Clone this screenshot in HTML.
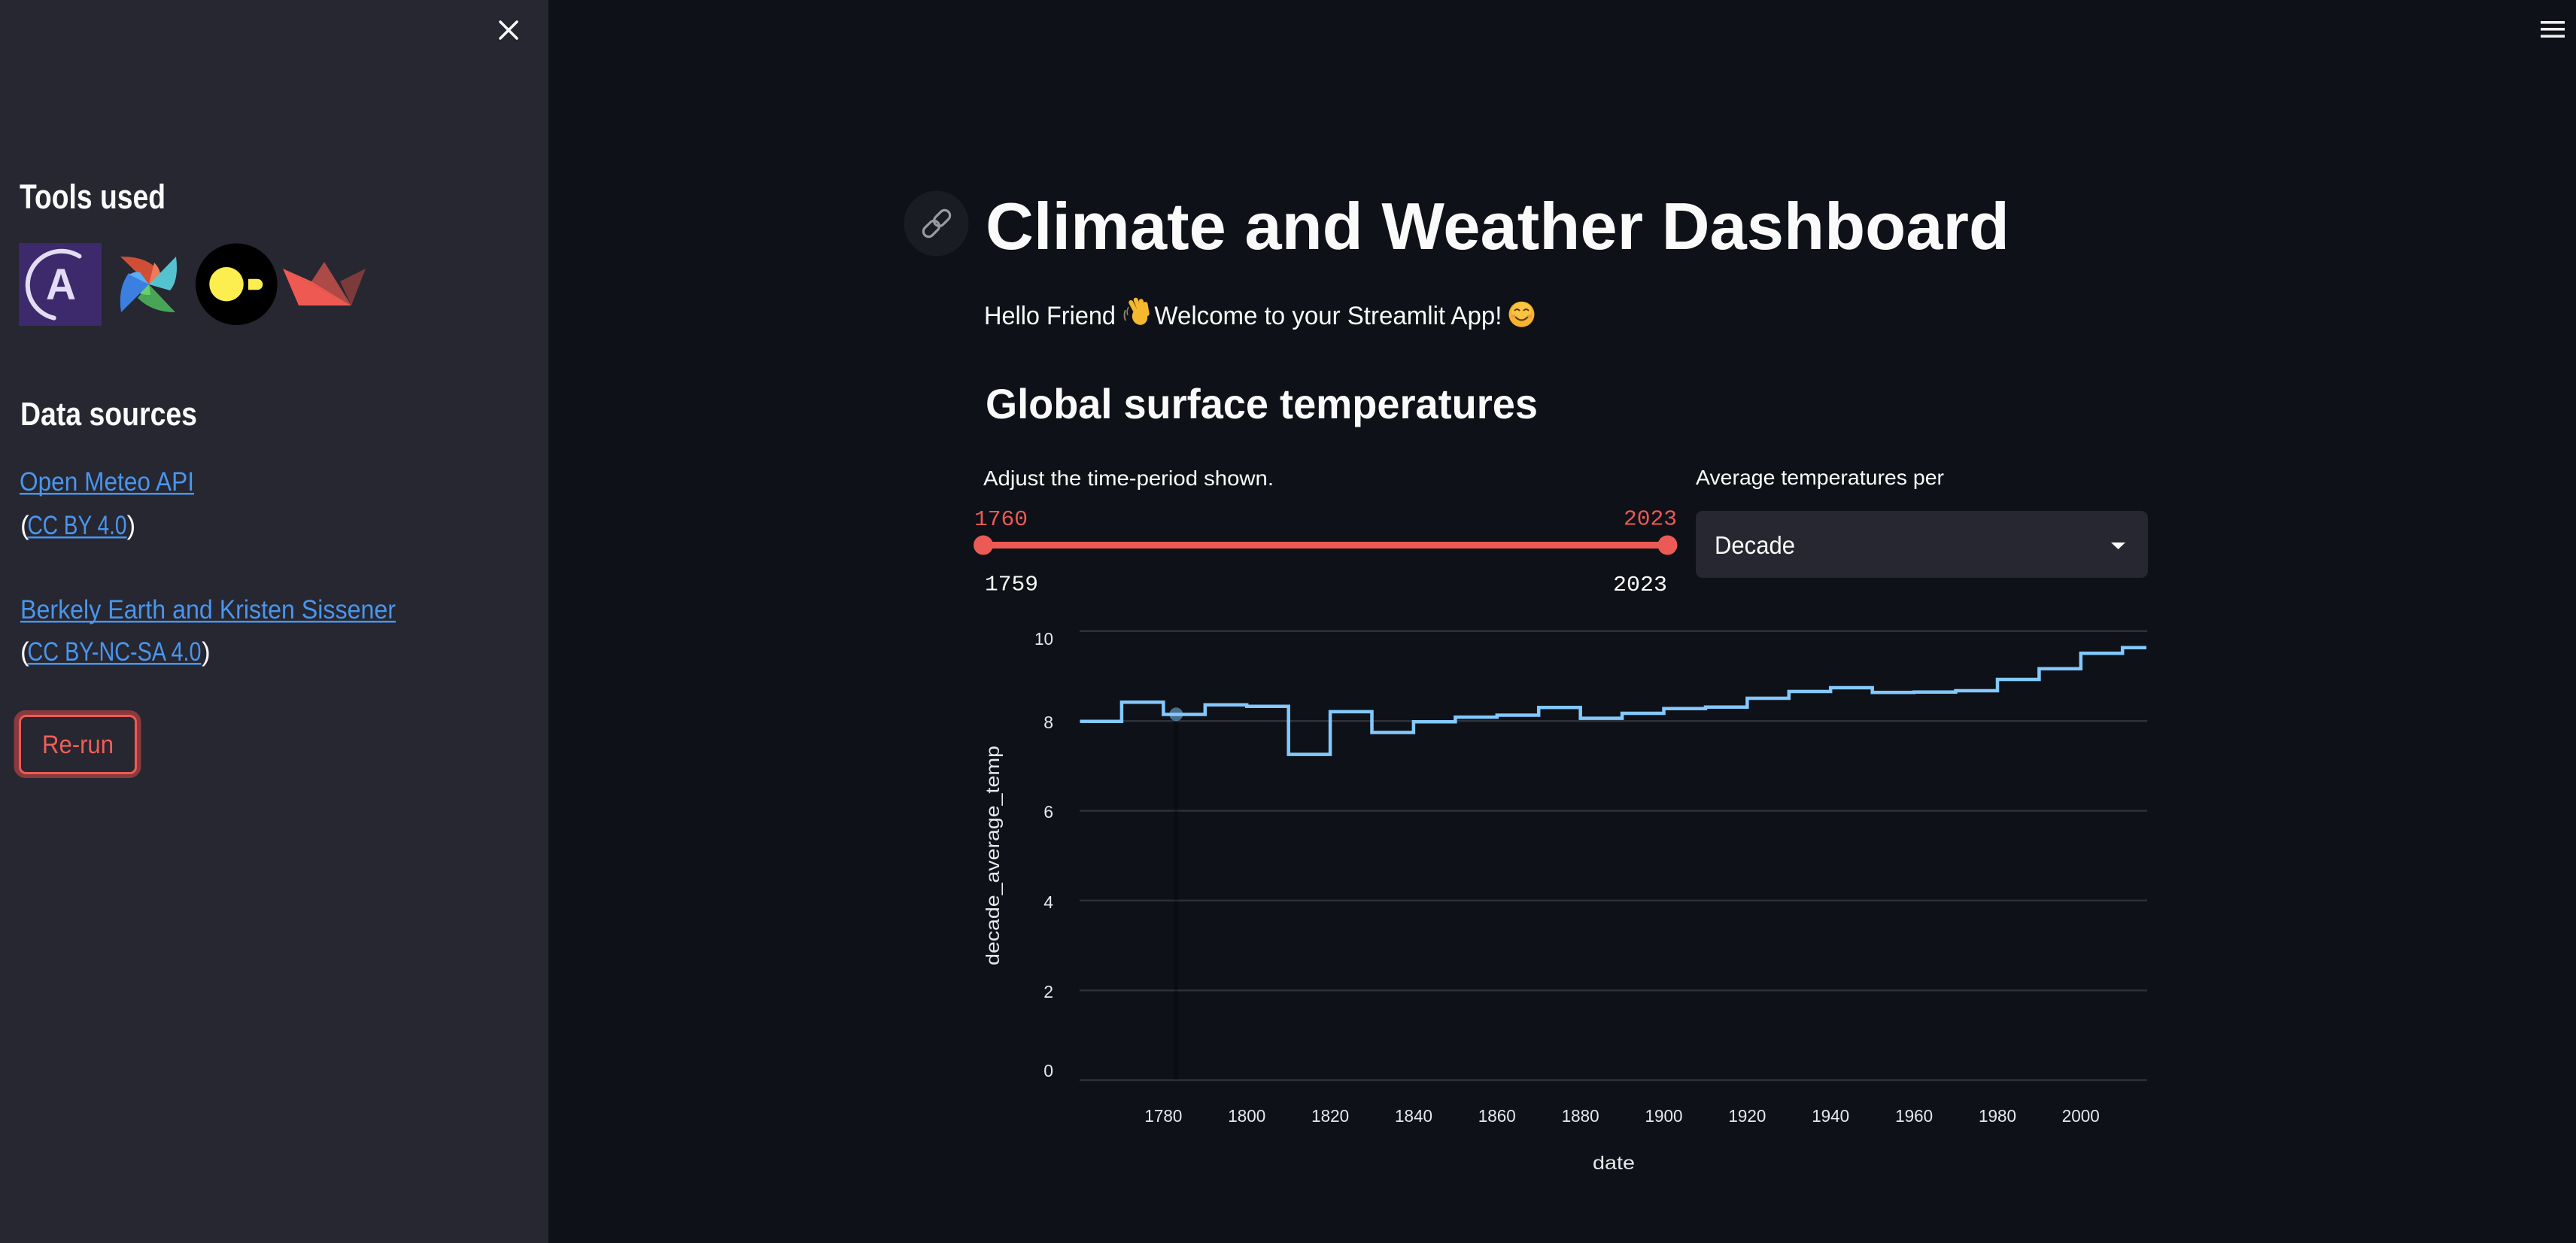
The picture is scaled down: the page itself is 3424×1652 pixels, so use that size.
<!DOCTYPE html>
<html>
<head>
<meta charset="utf-8">
<style>
  html,body{margin:0;padding:0;background:#0e1117;}
  svg{display:block;}
  .s{font-family:"Liberation Sans",sans-serif;}
  .m{font-family:"Liberation Mono",monospace;}
</style>
</head>
<body>
<svg width="3424" height="1652" viewBox="0 0 3424 1652" xmlns="http://www.w3.org/2000/svg">
  <!-- backgrounds -->
  <rect x="0" y="0" width="3424" height="1652" fill="#0e1117"/>
  <rect x="0" y="0" width="729" height="1652" fill="#262730"/>

  <!-- close X -->
  <g stroke="#fafafa" stroke-width="3.5" stroke-linecap="round">
    <line x1="665" y1="29" x2="687" y2="51"/>
    <line x1="687" y1="29" x2="665" y2="51"/>
  </g>

  <!-- hamburger -->
  <g fill="#f0f0f0">
    <rect x="3377" y="28" width="32" height="3.6"/>
    <rect x="3377" y="37" width="32" height="3.6"/>
    <rect x="3377" y="46.3" width="32" height="3.6"/>
  </g>

  <!-- Sidebar -->
  <text class="s" x="26" y="277" font-size="45" font-weight="bold" fill="#fafafa" textLength="194" lengthAdjust="spacingAndGlyphs">Tools used</text>

  <!-- Astronomer logo -->
  <rect x="25" y="323" width="110" height="110" fill="#3c2a6c"/>
  <path d="M105.5 340.5 A45 45 0 1 0 71.7 422.6" fill="none" stroke="#e3dcf5" stroke-width="6" stroke-linecap="round"/>
  <text class="s" x="81" y="398" font-size="58" font-weight="bold" fill="#e3dcf5" text-anchor="middle" textLength="40" lengthAdjust="spacingAndGlyphs">A</text>

  <!-- Airflow pinwheel -->
  <path d="M198 378 L160 341 Q196 340 213 362 Z" fill="#d04e36"/>
  <path d="M198 378 L205 349 Q212 356 213 364 Z" fill="#ee7a5c"/>
  <path d="M198 378 L234 341 Q238 372 226 386 Z" fill="#55c2d0"/>
  <path d="M198 378 L233 415 Q202 415 183 396 Z" fill="#47a555"/>
  <path d="M198 378 L200 392 Q188 392 183 388 Z" fill="#68cf6a"/>
  <path d="M198 378 L161 415 Q156 384 171 363 Z" fill="#3b7fe0"/>
  <path d="M198 378 L172 365 Q180 360 186 362 Z" fill="#5aaef5"/>

  <!-- Dagster-like logo -->
  <circle cx="314.3" cy="377.7" r="54.3" fill="#000"/>
  <circle cx="301" cy="377.7" r="22.7" fill="#fdee4f"/>
  <path d="M330 370.7 H342 A7.3 7.3 0 0 1 342 385.3 H330 Z" fill="#fdee4f"/>

  <!-- Streamlit boat -->
  <polygon points="414,374 431,348 467,406" fill="#ad4a46"/>
  <polygon points="452,374 486,357 467,406" fill="#7d3a3a"/>
  <polygon points="376,357 467,406 397,406" fill="#ee5a52"/>
  <polygon points="376,357 414,374 467,406" fill="#ee5a52"/>

  <text class="s" x="27" y="565" font-size="44" font-weight="bold" fill="#fafafa" textLength="235" lengthAdjust="spacingAndGlyphs">Data sources</text>

  <text class="s" x="26" y="652" font-size="35" fill="#4a95ee" textLength="232" lengthAdjust="spacingAndGlyphs">Open Meteo API</text>
  <rect x="26" y="655" width="232" height="2.5" fill="#4a95ee"/>

  <text class="s" x="27" y="710" font-size="35" fill="#fafafa">(</text>
  <text class="s" x="36.5" y="710" font-size="35" fill="#4a95ee" textLength="132" lengthAdjust="spacingAndGlyphs">CC BY 4.0</text>
  <rect x="36.5" y="713" width="132" height="2.5" fill="#4a95ee"/>
  <text class="s" x="168.5" y="710" font-size="35" fill="#fafafa">)</text>

  <text class="s" x="27" y="822" font-size="35" fill="#4a95ee" textLength="499" lengthAdjust="spacingAndGlyphs">Berkely Earth and Kristen Sissener</text>
  <rect x="27" y="825" width="499" height="2.5" fill="#4a95ee"/>

  <text class="s" x="27" y="878" font-size="35" fill="#fafafa">(</text>
  <text class="s" x="36.5" y="878" font-size="35" fill="#4a95ee" textLength="231" lengthAdjust="spacingAndGlyphs">CC BY-NC-SA 4.0</text>
  <rect x="36.5" y="881" width="231" height="2.5" fill="#4a95ee"/>
  <text class="s" x="268" y="878" font-size="35" fill="#fafafa">)</text>

  <!-- Re-run button -->
  <rect x="22" y="947.5" width="162" height="83" rx="12" fill="none" stroke="#8a3a3d" stroke-width="7"/>
  <rect x="26.5" y="951.5" width="154" height="76" rx="8" fill="#262730" stroke="#ef5a55" stroke-width="3"/>
  <text class="s" x="56" y="1001" font-size="34" fill="#ef5f58" textLength="95" lengthAdjust="spacingAndGlyphs">Re-run</text>

  <!-- Main: link icon -->
  <ellipse cx="1244.5" cy="297" rx="43" ry="43.5" fill="#1a1c24"/>
  <g fill="none" stroke="#9a9a9f" stroke-width="3.2" transform="rotate(-45 1245 297)">
    <rect x="1223" y="290" width="24" height="14" rx="7"/>
    <rect x="1243" y="290" width="24" height="14" rx="7"/>
  </g>

  <!-- Title -->
  <text class="s" x="1310" y="331" font-size="88" font-weight="bold" fill="#fafafa" textLength="1361" lengthAdjust="spacingAndGlyphs">Climate and Weather Dashboard</text>

  <!-- Hello line -->
  <text class="s" x="1308" y="431" font-size="34" fill="#fafafa" textLength="175" lengthAdjust="spacingAndGlyphs">Hello Friend</text>
  <!-- waving hand -->
  <g>
    <rect x="1504" y="398" width="6" height="22" rx="3" fill="#f5b82e" transform="rotate(-28 1507 409)"/>
    <rect x="1510" y="395" width="6" height="24" rx="3" fill="#f5b82e" transform="rotate(-22 1513 407)"/>
    <rect x="1516" y="397" width="6" height="22" rx="3" fill="#f5b82e" transform="rotate(-16 1519 408)"/>
    <rect x="1521" y="401" width="5.5" height="19" rx="2.8" fill="#f5b82e" transform="rotate(-10 1524 410)"/>
    <ellipse cx="1515" cy="421" rx="10" ry="11" fill="#f5b82e" transform="rotate(-25 1515 421)"/>
    <path d="M1496 412 Q1493 419 1496 426" stroke="#8a8070" stroke-width="2" fill="none"/>
    <path d="M1500 408 Q1497 414 1499 419" stroke="#8a8070" stroke-width="1.6" fill="none"/>
  </g>
  <text class="s" x="1534.4" y="431" font-size="34" fill="#fafafa" textLength="462" lengthAdjust="spacingAndGlyphs">Welcome to your Streamlit App!</text>
  <!-- smiley -->
  <g>
    <circle cx="2022.5" cy="417.7" r="17" fill="#f6b22e"/>
    <circle cx="2022.5" cy="414" r="13" fill="#fcd04a" opacity="0.6"/>
    <path d="M2013 413 Q2016.5 409 2020 413" stroke="#5a3a10" stroke-width="2" fill="none"/>
    <path d="M2025 413 Q2028.5 409 2032 413" stroke="#5a3a10" stroke-width="2" fill="none"/>
    <path d="M2014 421 Q2022.5 430 2031 421" stroke="#5a3a10" stroke-width="2.2" fill="none"/>
    <ellipse cx="2012" cy="420" rx="3" ry="2" fill="#f08a5a" opacity="0.7"/>
    <ellipse cx="2033" cy="420" rx="3" ry="2" fill="#f08a5a" opacity="0.7"/>
  </g>

  <!-- Subheader -->
  <text class="s" x="1310" y="556" font-size="56" font-weight="bold" fill="#fafafa" textLength="734" lengthAdjust="spacingAndGlyphs">Global surface temperatures</text>

  <!-- Slider -->
  <text class="s" x="1307" y="645" font-size="28" fill="#fafafa" textLength="386" lengthAdjust="spacingAndGlyphs">Adjust the time-period shown.</text>
  <text class="m" x="1295" y="698" font-size="29" fill="#eb5a55" textLength="71" lengthAdjust="spacingAndGlyphs">1760</text>
  <text class="m" x="2158" y="697.5" font-size="29" fill="#eb5a55" textLength="71" lengthAdjust="spacingAndGlyphs">2023</text>
  <line x1="1307" y1="724.5" x2="2216.5" y2="724.5" stroke="#eb5a55" stroke-width="9"/>
  <circle cx="1307" cy="724.5" r="13" fill="#eb5a55"/>
  <circle cx="2216.5" cy="724.5" r="13" fill="#eb5a55"/>
  <text class="m" x="1309" y="784.5" font-size="29" fill="#fafafa" textLength="71" lengthAdjust="spacingAndGlyphs">1759</text>
  <text class="m" x="2144" y="785" font-size="29" fill="#fafafa" textLength="72" lengthAdjust="spacingAndGlyphs">2023</text>

  <!-- Selectbox -->
  <text class="s" x="2254" y="644" font-size="28" fill="#fafafa" textLength="330" lengthAdjust="spacingAndGlyphs">Average temperatures per</text>
  <rect x="2254" y="679" width="601" height="89" rx="9" fill="#262730"/>
  <text class="s" x="2279" y="736" font-size="33" fill="#fafafa" textLength="107" lengthAdjust="spacingAndGlyphs">Decade</text>
  <polygon points="2806,721 2825,721 2815.5,730" fill="#fafafa"/>

  <!-- Chart gridlines -->
  <g stroke="#2f3139" stroke-width="2.5">
    <line x1="1435" y1="838.8" x2="2854" y2="838.8"/>
    <line x1="1435" y1="958.2" x2="2854" y2="958.2"/>
    <line x1="1435" y1="1077.5" x2="2854" y2="1077.5"/>
    <line x1="1435" y1="1196.9" x2="2854" y2="1196.9"/>
    <line x1="1435" y1="1316.2" x2="2854" y2="1316.2"/>
    <line x1="1435" y1="1435.5" x2="2854" y2="1435.5"/>
  </g>

  <!-- Y tick labels -->
  <g class="s" font-size="23" fill="#e6e8ec" text-anchor="end">
    <text x="1400" y="857" textLength="25" lengthAdjust="spacingAndGlyphs">10</text>
    <text x="1400" y="968">8</text>
    <text x="1400" y="1087">6</text>
    <text x="1400" y="1207">4</text>
    <text x="1400" y="1326">2</text>
    <text x="1400" y="1431">0</text>
  </g>

  <!-- Y title -->
  <text class="s" transform="translate(1328 1137) rotate(-90)" x="0" y="0" font-size="25" fill="#e6e8ec" text-anchor="middle" textLength="292" lengthAdjust="spacingAndGlyphs">decade_average_temp</text>

  <!-- X tick labels -->
  <g class="s" font-size="23" fill="#e6e8ec" text-anchor="middle">
    <text x="1546.4" y="1491" textLength="50" lengthAdjust="spacingAndGlyphs">1780</text>
    <text x="1657.3" y="1491" textLength="50" lengthAdjust="spacingAndGlyphs">1800</text>
    <text x="1768.1" y="1491" textLength="50" lengthAdjust="spacingAndGlyphs">1820</text>
    <text x="1879.0" y="1491" textLength="50" lengthAdjust="spacingAndGlyphs">1840</text>
    <text x="1989.8" y="1491" textLength="50" lengthAdjust="spacingAndGlyphs">1860</text>
    <text x="2100.7" y="1491" textLength="50" lengthAdjust="spacingAndGlyphs">1880</text>
    <text x="2211.5" y="1491" textLength="50" lengthAdjust="spacingAndGlyphs">1900</text>
    <text x="2322.4" y="1491" textLength="50" lengthAdjust="spacingAndGlyphs">1920</text>
    <text x="2433.2" y="1491" textLength="50" lengthAdjust="spacingAndGlyphs">1940</text>
    <text x="2544.1" y="1491" textLength="50" lengthAdjust="spacingAndGlyphs">1960</text>
    <text x="2655.0" y="1491" textLength="50" lengthAdjust="spacingAndGlyphs">1980</text>
    <text x="2765.8" y="1491" textLength="50" lengthAdjust="spacingAndGlyphs">2000</text>
  </g>
  <text class="s" x="2145" y="1554" font-size="25" fill="#e6e8ec" text-anchor="middle" textLength="56" lengthAdjust="spacingAndGlyphs">date</text>

  <!-- hover spike -->
  <line x1="1563.3" y1="949" x2="1563.3" y2="1435" stroke="#000" stroke-width="6" opacity="0.22"/>

  <!-- Step line -->
  <path d="M1435.5 958.7 H1490.9 V933.2 H1546.4 V949.5 H1601.8 V936.7 H1657.2 V938.8 H1712.7 V1002.6 H1768.1 V945.9 H1823.5 V973.5 H1878.9 V959.2 H1934.4 V953.1 H1989.8 V950.5 H2045.2 V940.3 H2100.7 V954.6 H2156.1 V948.0 H2211.5 V941.8 H2267.0 V939.8 H2322.4 V928.0 H2377.8 V919.0 H2433.2 V914.0 H2488.7 V920.3 H2544.1 V919.7 H2599.5 V918.0 H2655.0 V903.0 H2710.4 V888.7 H2765.8 V868.3 H2821.2 V860.7 H2853" fill="none" stroke="#83c9ff" stroke-width="4.5" stroke-linejoin="miter"/>

  <!-- hover marker -->
  <circle cx="1563.3" cy="949.3" r="9" fill="#83c9ff" opacity="0.5"/>
</svg>
</body>
</html>
